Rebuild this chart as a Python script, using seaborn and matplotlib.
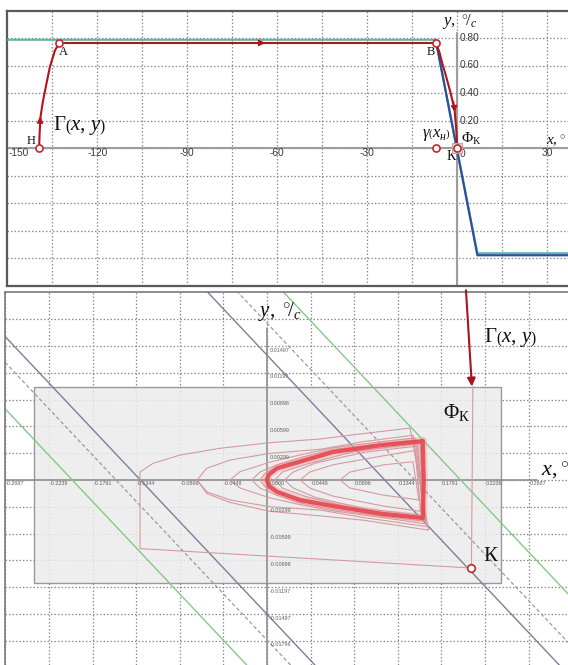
import numpy as np
import matplotlib
matplotlib.use("Agg")
import matplotlib.pyplot as plt
from matplotlib.patches import Rectangle
import seaborn as sns

sns.set_theme(style="white")
plt.rcParams["font.family"] = ["Liberation Sans", "DejaVu Sans"]
plt.rcParams["mathtext.fontset"] = "custom"
plt.rcParams["mathtext.rm"] = "Liberation Serif"
plt.rcParams["mathtext.it"] = "Liberation Serif:italic"
plt.rcParams["mathtext.bf"] = "Liberation Serif:bold"

RED = "#b3141c"
PINK = "#d49aa1"
GRID = "#8c8c8c"

# ---------------- upper panel: x(t), y(t) trajectory ----------------
env_teal_x = [-150, -7.2, 6.7, 40]
env_teal_y = [0.787, 0.787, -0.765, -0.765]
env_blue_x = [-7.2, 6.7, 40]
env_blue_y = [0.787, -0.780, -0.780]

rise_x = [-139.4, -139.2, -138.9, -138.2, -137.4, -135.8, -134.1, -132.7]
rise_y = [0.0, 0.12, 0.23, 0.33, 0.42, 0.59, 0.71, 0.764]
dwell_x = [-132.7, -7.2]
dwell_y = [0.764, 0.764]
fall_x = [-7.2, -6.0, -5.0, -3.6, -2.2, -0.9, -0.3, 0.0]
fall_y = [0.764, 0.70, 0.616, 0.51, 0.398, 0.276, 0.12, 0.0]

pt_x = [-139.4, -132.7, -7.2, -7.0]
pt_y = [0.0, 0.764, 0.764, 0.0]

top_xticks = [-150, -120, -90, -60, -30, 0, 30]
top_yticks = [0.80, 0.60, 0.40, 0.20]

# ---------------- lower panel: phase plane ----------------
bot_xticks = [-0.2687, -0.2239, -0.1791, -0.1344, -0.0896, -0.0448, 0.0,
              0.0448, 0.0896, 0.1344, 0.1791, 0.2239, 0.2687]
bot_yticks = [0.01796, 0.01497, 0.01197, 0.00898, 0.00599, 0.00299, 0.0,
              -0.00299, -0.00599, -0.00898, -0.01197, -0.01497, -0.01796]

# switching lines: common slope, x-intercepts
diag_slope = -0.1153
diag_green = [-0.200, 0.199]
diag_dashed = [-0.155, 0.152]
diag_solid = [-0.130, 0.121]

# region of interest
roi_x = [-0.2393, 0.2403]
roi_y = [-0.0115, 0.01044]

# entry trajectory from K and first outer turn
outer_x = [0.2115, 0.2100, -0.1304, -0.1304, -0.1171, -0.0893, -0.0483, 0.0031,
           0.0544, 0.1000, 0.1470, 0.1660, 0.1000, 0.0544, 0.0031, -0.0380,
           -0.0619, -0.0719]
outer_y = [0.01044, -0.00983, -0.00766, 0.00089, 0.00186, 0.00279, 0.00354, 0.00417,
           0.00458, 0.00520, 0.00580, -0.00560, -0.00450, -0.00400, -0.00350,
           -0.00250, -0.00150, 0.0]

# converging turns (nose -> right edge), upper and lower branches
loop_a_x = [-0.0719, -0.0619, -0.0380, 0.0031, 0.0544, 0.1000, 0.1500]
loop_a_up = [0.0, 0.00131, 0.00223, 0.00298, 0.00343, 0.00430, 0.00500]
loop_a_lo = [0.0, -0.00131, -0.00223, -0.00298, -0.00335, -0.00420, -0.00520]
loop_b_x = [-0.0380, -0.0277, 0.0031, 0.0339, 0.0680, 0.1190, 0.1520]
loop_b_up = [0.0, 0.00093, 0.00200, 0.00280, 0.00360, 0.00430, 0.00470]
loop_b_lo = [0.0, -0.00089, -0.00200, -0.00275, -0.00345, -0.00420, -0.00490]
loop_c_x = [-0.0154, -0.0072, 0.0103, 0.0339, 0.0680, 0.1190, 0.1540]
loop_c_up = [0.0, 0.00090, 0.00170, 0.00250, 0.00340, 0.00410, 0.00450]
loop_c_lo = [0.0, -0.00090, -0.00170, -0.00255, -0.00330, -0.00405, -0.00460]
loop_g_x = [-0.0072, -0.0020, 0.0103, 0.0339, 0.0680, 0.1190, 0.1570]
loop_g_up = [0.0, 0.00075, 0.00150, 0.00228, 0.00328, 0.00400, 0.00442]
loop_g_lo = [0.0, -0.00075, -0.00150, -0.00240, -0.00310, -0.00392, -0.00440]
# diverging turns starting inside the cycle
loop_d_x = [0.0750, 0.0852, 0.1191, 0.1499]
loop_d_up = [0.0, 0.00089, 0.00168, 0.00205]
loop_d_lo = [0.0, -0.00089, -0.00168, -0.00223]
loop_e_x = [0.0339, 0.0440, 0.0680, 0.1191, 0.1520]
loop_e_up = [0.0, 0.00090, 0.00170, 0.00270, 0.00330]
loop_e_lo = [0.0, -0.00090, -0.00180, -0.00290, -0.00350]
loop_f_x = [0.0180, 0.0270, 0.0500, 0.1000, 0.1550]
loop_f_up = [0.0, 0.00090, 0.00190, 0.00310, 0.00380]
loop_f_lo = [0.0, -0.00090, -0.00195, -0.00320, -0.00395]
loop_h_x = [0.0080, 0.0160, 0.0400, 0.0900, 0.1580]
loop_h_up = [0.0, 0.00090, 0.00175, 0.00320, 0.00410]
loop_h_lo = [0.0, -0.00090, -0.00185, -0.00320, -0.00415]

# limit cycle
cyc_x = [0.1600, 0.1551, 0.1191, 0.0680, 0.0339, 0.0103, 0.0020, -0.0003,
         0.0020, 0.0103, 0.0339, 0.0680, 0.1191, 0.1602, 0.1610, 0.1600]
cyc_y = [0.00436, 0.00428, 0.00391, 0.00313, 0.00204, 0.00131, 0.00060, 0.0,
         -0.00065, -0.00131, -0.00223, -0.00290, -0.00380, -0.00424, 0.0, 0.00436]

k_point = (0.2096, -0.00983)

# ---------------------------------------------------------------
W, H = 568, 665
fig = plt.figure(figsize=(W / 100, H / 100), dpi=100)


def box(l, t, r, b):
    return [l / W, 1 - b / H, (r - l) / W, (b - t) / H]


def trace(ax, x, y, **kw):
    sns.lineplot(x=x, y=y, sort=False, estimator=None, ax=ax, legend=False, **kw)


def arrow(ax, tail, tip, color=RED, ms=10):
    ax.annotate("", xy=tip, xytext=tail,
                arrowprops=dict(arrowstyle="-|>", color=color, lw=0.8,
                                mutation_scale=ms, shrinkA=0, shrinkB=0), zorder=6)


def d_loop(xs, yu, yl, x_low_end):
    px = [x_low_end] + xs[-2::-1] + xs[1:] + [x_low_end]
    py = [yl[-1]] + yl[-2::-1] + yu[1:] + [yl[-1]]
    return px, py


# ===================== upper panel =====================
ax1 = fig.add_axes(box(7.3, 10.5, 568, 285.5))
ax1.set_xlim(-150, 36.9)
ax1.set_ylim(-1, 1)
ax1.set_xticks(np.arange(-135, 37, 15))
ax1.set_yticks(np.arange(-0.8, 0.81, 0.2))
ax1.grid(True, color=GRID, linestyle=(0, (1.2, 1.6)), linewidth=0.9)
ax1.tick_params(length=0, labelbottom=False, labelleft=False)
for s in ["left", "top", "bottom"]:
    ax1.spines[s].set_color("#5a5a5a")
    ax1.spines[s].set_linewidth(1.6)
ax1.spines["right"].set_visible(False)
ax1.axhline(0, color="#9d9d9d", lw=1.5, zorder=2)
ax1.plot([0, 0], [-1, 0.84], color="#9d9d9d", lw=1.5, zorder=2)

trace(ax1, env_teal_x, env_teal_y, color="#5bb9a2", linewidth=1.5, zorder=3)
trace(ax1, env_blue_x, env_blue_y, color="#2d4f9e", linewidth=1.6, zorder=3.2)
trace(ax1, rise_x, rise_y, color=RED, linewidth=1.5, zorder=4)
trace(ax1, dwell_x, dwell_y, color=RED, linewidth=1.5, zorder=4)
trace(ax1, fall_x, fall_y, color=RED, linewidth=1.5, zorder=4)
arrow(ax1, (-139.15, 0.15), (-139.0, 0.23))
arrow(ax1, (-72, 0.764), (-64, 0.764))
arrow(ax1, (-1.2, 0.34), (-0.85, 0.26))

ax1.scatter([0], [0], marker="s", s=55, facecolor="#e6d6d8", edgecolor="#c9a0a5",
            linewidth=0.8, zorder=6)
sns.scatterplot(x=pt_x + [0.0], y=pt_y + [0.0], ax=ax1, s=26, color="white",
                edgecolor="#c0282d", linewidth=1.2, zorder=7, legend=False)

for v in top_xticks:
    if v == -150:
        ax1.text(v + 0.4, -0.04, str(v), ha="left", va="center", fontsize=7.3, color="#3a3a3a")
    elif v == 0:
        ax1.text(0.7, -0.045, "0", ha="left", va="center", fontsize=7.3, color="#3a3a3a")
    else:
        ax1.text(v, -0.04, str(v), ha="center", va="center", fontsize=7.3, color="#3a3a3a")
for v in top_yticks:
    ax1.text(0.8, v, f"{v:.2f}", ha="left", va="center", fontsize=7.3, color="#3a3a3a")

serif = dict(family=["Liberation Serif", "DejaVu Serif"], color="#111111")
ax1.text(-141.9, 0.052, "Н", ha="center", va="center", fontsize=9, **serif)
ax1.text(-131.2, 0.70, "А", ha="center", va="center", fontsize=9, **serif)
ax1.text(-8.8, 0.70, "В", ha="center", va="center", fontsize=9, **serif)
ax1.text(-126.0, 0.167, r"$\Gamma\left(x,\,y\right)$", ha="center", va="center", fontsize=15, **serif)
ax1.text(-2.2, 0.03, r"$\gamma\left(x_{н}\right)$", ha="right", va="bottom", fontsize=12, **serif)
ax1.text(1.2, 0.065, r"$\Phi_{\mathrm{К}}$", ha="left", va="center", fontsize=11, **serif)
ax1.text(-2.1, -0.065, "К", ha="center", va="center", fontsize=10, **serif)
ax1.text(0.9, 0.916, r"$y,\ {}^{\circ}\!/_{c}$", ha="center", va="center", fontsize=12, **serif)
ax1.text(33.0, 0.05, r"$x,{}^{\circ}$", ha="center", va="center", fontsize=11, **serif)

# ===================== lower panel =====================
ax2 = fig.add_axes(box(5, 292, 568, 665))
ax2.set_xlim(-0.2691, 0.3092)
ax2.set_ylim(-0.02066, 0.0210)
ax2.set_xticks(bot_xticks)
ax2.set_yticks(bot_yticks)
ax2.grid(True, color=GRID, linestyle=(0, (1.2, 1.6)), linewidth=0.9, zorder=1)
ax2.set_axisbelow(True)
ax2.tick_params(length=0, labelbottom=False, labelleft=False)
for s in ["left", "top"]:
    ax2.spines[s].set_color("#7a7a7a")
    ax2.spines[s].set_linewidth(1.2)
ax2.spines["right"].set_visible(False)
ax2.spines["bottom"].set_visible(False)

ax2.add_patch(Rectangle((roi_x[0], roi_y[0]), roi_x[1] - roi_x[0], roi_y[1] - roi_y[0],
                        facecolor="#ececec", edgecolor="#8a8a8a", linewidth=1.0,
                        alpha=0.85, zorder=1.5))
ax2.plot([-0.2691, 0.277], [0, 0], color="#8f8f8f", lw=1.2, zorder=2)
ax2.plot([0, 0], [-0.0207, 0.01697], color="#8f8f8f", lw=1.2, zorder=2)

xs_full = [-0.2691, 0.3092]
for x0 in diag_green:
    trace(ax2, xs_full, [diag_slope * (v - x0) for v in xs_full], color="#86c986",
          linewidth=1.0, zorder=2.5)
for x0 in diag_dashed:
    trace(ax2, xs_full, [diag_slope * (v - x0) for v in xs_full], color="#9a9a9a",
          linewidth=0.9, linestyle=(0, (3, 2)), zorder=2.5)
for x0 in diag_solid:
    trace(ax2, xs_full, [diag_slope * (v - x0) for v in xs_full], color="#7b7f9c",
          linewidth=1.0, zorder=2.5)

for xs, yu, yl, xe in [(loop_a_x, loop_a_up, loop_a_lo, 0.1640),
                       (loop_b_x, loop_b_up, loop_b_lo, 0.1630),
                       (loop_c_x, loop_c_up, loop_c_lo, 0.1620),
                       (loop_g_x, loop_g_up, loop_g_lo, 0.1615),
                       (loop_d_x, loop_d_up, loop_d_lo, 0.1560),
                       (loop_e_x, loop_e_up, loop_e_lo, 0.1580),
                       (loop_f_x, loop_f_up, loop_f_lo, 0.1600),
                       (loop_h_x, loop_h_up, loop_h_lo, 0.1605)]:
    lx, ly = d_loop(xs, yu, yl, xe)
    trace(ax2, lx, ly, color=PINK, linewidth=0.8, zorder=3)
trace(ax2, outer_x, outer_y, color=PINK, linewidth=0.8, zorder=3)

trace(ax2, cyc_x, cyc_y, color="#f08a8f", linewidth=6.0, alpha=0.35, zorder=4)
trace(ax2, cyc_x, cyc_y, color="#e5474f", linewidth=3.0, alpha=0.9, zorder=4.5)

ax2.annotate("", xy=(0.2105, 0.01044), xytext=(0.2044, 0.0212),
             arrowprops=dict(arrowstyle="-|>", color="#a3161c", lw=1.5,
                             mutation_scale=12, shrinkA=0, shrinkB=0), zorder=6)
sns.scatterplot(x=[k_point[0]], y=[k_point[1]], ax=ax2, s=30, color="white",
                edgecolor="#c0282d", linewidth=1.2, zorder=7, legend=False)

lab = dict(fontsize=3.9, color="#5f5f5f")
for v in bot_xticks:
    ax2.text(v + 0.0008, -0.00037, f"{v:.4f}", ha="left", va="center", **lab)
for v in bot_yticks:
    if v in (0.0, 0.01796):
        continue
    ax2.text(0.0031, v - 0.00045, f"{v:.5f}", ha="left", va="center", **lab)

ax2.text(0.01335, 0.01887, r"$y,\ {}^{\circ}\!/_{c}$", ha="center", va="center", fontsize=15, **serif)
ax2.text(0.2958, 0.00112, r"$x,{}^{\circ}$", ha="center", va="center", fontsize=16, **serif)
ax2.text(0.2506, 0.01597, r"$\Gamma\left(x,\,y\right)$", ha="center", va="center", fontsize=15, **serif)
ax2.text(0.1952, 0.00759, r"$\Phi_{\mathrm{К}}$", ha="center", va="center", fontsize=15, **serif)
ax2.text(0.229, -0.0085, "К", ha="center", va="center", fontsize=15, **serif)

fig.savefig("out.png", dpi=100)
